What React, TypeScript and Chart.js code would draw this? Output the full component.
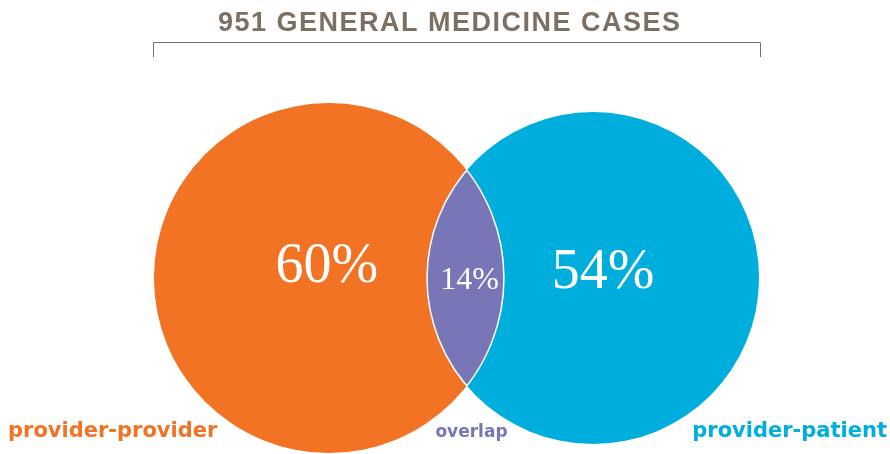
import React, { useEffect, useRef } from 'react';
import { Chart, registerables } from 'chart.js';

Chart.register(...registerables);

// ---- data ----
const TITLE = '951 GENERAL MEDICINE CASES';
const SET_LABELS = ['provider-provider', 'provider-patient'];
const SET_SHARES = [60, 54]; // percent of cases in each set
const OVERLAP_LABEL = 'overlap';
const OVERLAP_SHARE = 14;
// Venn layout in data units (radius = sqrt(share))
const SET_X = [14.56, 26.25];
const SET_Y = [7.79, 7.79];
const X_RANGE = [0, 39.394];
const Y_RANGE = [0, 20.096];

// ---- styles ----
const ORANGE = '#F37324';
const BLUE = '#00AEDE';
const PURPLE = '#7876B7';
const TITLE_COLOR = '#7C6F64';

function pixelRadius(chart: any, i: number) {
  const xs = chart.scales.x;
  const r = Math.sqrt(SET_SHARES[i]);
  return xs.getPixelForValue(SET_X[i] + r) - xs.getPixelForValue(SET_X[i]);
}

const vennPlugin = {
  id: 'venn',
  afterDatasetsDraw(chart: any) {
    const meta = chart.getDatasetMeta(0);
    const [a, b] = meta.data;
    if (!a || !b) return;
    const x1 = a.x, y1 = a.y, r1 = pixelRadius(chart, 0);
    const x2 = b.x, y2 = b.y, r2 = pixelRadius(chart, 1);
    const ctx = chart.ctx as CanvasRenderingContext2D;
    const circle = (x: number, y: number, r: number) => {
      ctx.beginPath();
      ctx.arc(x, y, r, 0, Math.PI * 2);
    };
    // lens fill
    ctx.save();
    circle(x1, y1, r1);
    ctx.clip();
    circle(x2, y2, r2);
    ctx.fillStyle = PURPLE;
    ctx.fill();
    ctx.strokeStyle = '#ffffff';
    ctx.lineWidth = 1.5;
    ctx.stroke();
    ctx.restore();
    ctx.save();
    circle(x2, y2, r2);
    ctx.clip();
    circle(x1, y1, r1);
    ctx.strokeStyle = '#ffffff';
    ctx.lineWidth = 1.5;
    ctx.stroke();
    ctx.restore();

    // percentages
    ctx.save();
    ctx.fillStyle = '#ffffff';
    ctx.textAlign = 'center';
    ctx.textBaseline = 'alphabetic';
    ctx.font = '56px "Liberation Serif", serif';
    ctx.fillText(`${SET_SHARES[0]}%`, x1 - 2, y1 + 4);
    ctx.fillText(`${SET_SHARES[1]}%`, x2 + 10, y2 + 10);
    const lensCx = ((x2 - r2) + (x1 + r1)) / 2;
    ctx.font = '32px "Liberation Serif", serif';
    ctx.fillText(`${OVERLAP_SHARE}%`, lensCx + 4, (y1 + y2) / 2 + 11);
    ctx.restore();

    // title + bracket
    ctx.save();
    ctx.fillStyle = TITLE_COLOR;
    ctx.font = 'bold 27px "Liberation Sans", Arial, sans-serif';
    (ctx as any).letterSpacing = '1.5px';
    ctx.textAlign = 'left';
    ctx.textBaseline = 'alphabetic';
    ctx.fillText(TITLE, 218, 31);
    (ctx as any).letterSpacing = '0px';
    ctx.strokeStyle = TITLE_COLOR;
    ctx.lineWidth = 1;
    ctx.beginPath();
    ctx.moveTo(153.5, 57);
    ctx.lineTo(153.5, 42.5);
    ctx.lineTo(760.5, 42.5);
    ctx.lineTo(760.5, 57);
    ctx.stroke();
    ctx.restore();

    // set labels
    ctx.save();
    ctx.textBaseline = 'alphabetic';
    ctx.font = 'bold 21px "DejaVu Sans", sans-serif';
    ctx.fillStyle = ORANGE;
    ctx.textAlign = 'left';
    ctx.fillText(SET_LABELS[0], 8, 437);
    ctx.fillStyle = BLUE;
    ctx.textAlign = 'right';
    ctx.fillText(SET_LABELS[1], 887, 437);
    ctx.font = 'bold 17px "DejaVu Sans", sans-serif';
    ctx.fillStyle = PURPLE;
    ctx.textAlign = 'center';
    ctx.fillText(OVERLAP_LABEL, lensCx + 6, 437);
    ctx.restore();
  },
};

export default function App() {
  const canvasRef = useRef<HTMLCanvasElement | null>(null);

  useEffect(() => {
    if (!canvasRef.current) return;
    const chart = new Chart(canvasRef.current, {
      type: 'scatter',
      data: {
        datasets: [
          {
            label: 'sets',
            data: SET_SHARES.map((s, i) => ({ x: SET_X[i], y: SET_Y[i] })) as any,
            backgroundColor: [ORANGE, BLUE],
            pointBackgroundColor: [ORANGE, BLUE],
            pointBorderWidth: 0,
            pointRadius: (ctx: any) => pixelRadius(ctx.chart, ctx.dataIndex),
            pointHoverRadius: (ctx: any) => pixelRadius(ctx.chart, ctx.dataIndex),
            showLine: false,
            clip: false,
          } as any,
        ],
      },
      options: {
        animation: false,
        responsive: true,
        maintainAspectRatio: false,
        events: [],
        layout: { padding: 0 },
        scales: {
          x: { type: 'linear', display: false, min: X_RANGE[0], max: X_RANGE[1] },
          y: { type: 'linear', display: false, min: Y_RANGE[0], max: Y_RANGE[1] },
        },
        plugins: {
          legend: { display: false },
          tooltip: { enabled: false },
          title: { display: false },
        },
      },
      plugins: [vennPlugin],
    });
    return () => chart.destroy();
  }, []);

  return (
    <div style={{ position: 'absolute', left: 0, top: 0, width: 890, height: 454, background: '#ffffff' }}>
      <canvas ref={canvasRef} />
    </div>
  );
}
